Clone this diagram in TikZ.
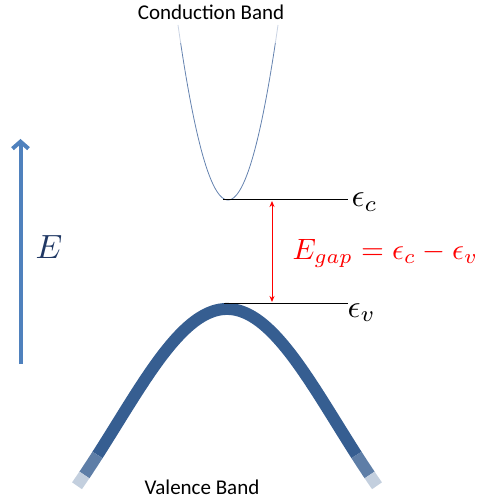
\documentclass[tikz,border=0pt]{standalone}
\usepackage{fontspec}
\newfontfamily\carlito{Carlito}
\usetikzlibrary{arrows.meta}
\definecolor{vband}{RGB}{54,94,145}
\definecolor{cband}{RGB}{100,130,175}
\definecolor{earrow}{RGB}{79,129,189}
\definecolor{etext}{RGB}{32,56,100}
\tikzset{
  bandlabel/.style={inner sep=0pt, font=\carlito\fontsize{21}{24}\selectfont},
  mathlabel/.style={inner sep=0pt, scale=3.2, anchor=base west},
  level/.style={black, line width=1pt},
  vstroke/.style={line width=12pt},
}
\begin{document}
\begin{tikzpicture}[x=1pt, y=-1pt]
\useasboundingbox (0,0) rectangle (482,502);
% conduction band
\draw[cband, line width=0.8pt] plot[domain=-47.4:47.4, samples=80] ({\x+228}, {200-0.07*\x*\x});
\draw[cband!35!white, line width=0.8pt] plot[domain=-50:-47.4, samples=5] ({\x+228}, {200-0.07*\x*\x});
\draw[cband!35!white, line width=0.8pt] plot[domain=47.4:50, samples=5] ({\x+228}, {200-0.07*\x*\x});
% valence band
\draw[vband, vstroke] plot[domain=-129.5:129.5, samples=120] ({\x+227}, {309+292*(1-exp(-0.5*(\x/110)^2))});
\draw[vband!80!white, vstroke] plot[domain=-142.6:-129.5, samples=8] ({\x+227}, {309+292*(1-exp(-0.5*(\x/110)^2))});
\draw[vband!80!white, vstroke] plot[domain=129.5:142.6, samples=8] ({\x+227}, {309+292*(1-exp(-0.5*(\x/110)^2))});
\draw[vband!30!white, vstroke] plot[domain=-150:-142.6, samples=5] ({\x+227}, {309+292*(1-exp(-0.5*(\x/110)^2))});
\draw[vband!30!white, vstroke] plot[domain=142.6:150, samples=5] ({\x+227}, {309+292*(1-exp(-0.5*(\x/110)^2))});
% labels
\node[bandlabel] (cb) at (211,12) {Conduction Band};
\node[bandlabel] (vb) at (202,487) {Valence Band};
% levels
\coordinate (c1) at (223,200);
\coordinate (c2) at (348,200);
\coordinate (v1) at (224,303);
\coordinate (v2) at (348,303);
\draw[level] (c1) -- (c2);
\draw[level] (v1) -- (v2);
\node[mathlabel] (ec) at (351,207) {$\epsilon_c$};
\node[mathlabel] (ev) at (347,317) {$\epsilon_v$};
% gap arrow
\coordinate (g1) at (272,201);
\coordinate (g2) at (272,302);
\draw[red, line width=1pt, {Stealth[length=6pt,width=5pt]}-{Stealth[length=6pt,width=5pt]}] (g1) -- (g2);
\node[mathlabel, red, scale=0.92] (eg) at (292,259) {$E_{gap} = \epsilon_c - \epsilon_v$};
% energy axis
\coordinate (a1) at (20.5,364);
\coordinate (a2) at (20.5,139);
\draw[earrow, line width=4pt, -{Straight Barb[length=7pt,width=16pt]}] (a1) -- (a2);
\node[mathlabel, etext, scale=1.05] (E) at (35,258) {$E$};
\end{tikzpicture}
\end{document}
